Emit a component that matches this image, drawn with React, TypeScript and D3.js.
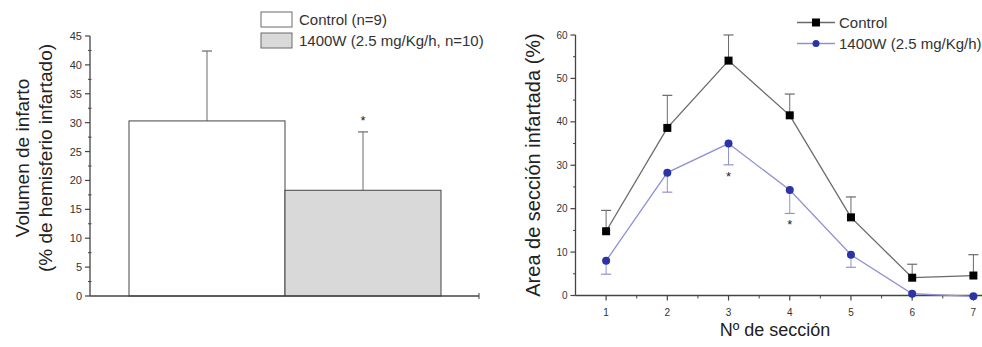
import React from "react";
import * as d3 from "d3";

const barGroups = ["Control (n=9)", "1400W (2.5 mg/Kg/h, n=10)"];
const barValues = [30.3, 18.3];
const barErrors = [12.1, 10.1];
const barFills = ["#ffffff", "#d9d9d9"];
const barStars = [false, true];
const leftTicks = [0, 5, 10, 15, 20, 25, 30, 35, 40, 45];

const sections = [1, 2, 3, 4, 5, 6, 7];
const controlVals = [14.8, 38.6, 54.1, 41.5, 18.0, 4.1, 4.6];
const controlErr = [4.8, 7.5, 5.9, 4.9, 4.7, 3.1, 4.8];
const treatVals = [8.0, 28.3, 35.0, 24.3, 9.4, 0.4, -0.2];
const treatErr = [3.1, 4.5, 4.9, 5.4, 2.9, 0, 0];
const treatStars = [false, false, true, true, false, false, false];
const rightTicks = [0, 10, 20, 30, 40, 50, 60];

const FONT = "'Liberation Sans', Arial, sans-serif";
const TXT = "#333";
const AX = "#444";
const BLUE = "#2a34a6";
const BLUE_L = "#8f92d4";
const GREY = "#6a6a6a";

export default function App() {
  // Left chart scales
  const yL = d3.scaleLinear().domain([0, 45]).range([296, 36]);
  const xL = d3.scaleBand<string>().domain(barGroups).range([129, 441]).padding(0);
  const minorL = d3.range(2.5, 45, 5);

  // Right chart scales
  const xR = d3.scaleLinear().domain([0.5, 7.5]).range([575.5, 1004]);
  const yR = d3.scaleLinear().domain([0, 60]).range([295.5, 35]);
  const minorR = d3.range(1.5, 7.5, 1);
  const lineGen = d3
    .line<number>()
    .x((_, i) => xR(sections[i]))
    .y((d) => yR(d));

  return (
    <svg width={982} height={347} style={{ position: "absolute", left: 0, top: 0, background: "#fff" }} fontFamily={FONT}>
      <rect x={0} y={0} width={982} height={347} fill="#fff" />
      {/* ---------- LEFT CHART ---------- */}
      <g>
        {barGroups.map((g, i) => {
          const x0 = xL(g)!;
          const w = xL.bandwidth();
          const cx = x0 + w / 2;
          return (
            <g key={g}>
              <line x1={cx} x2={cx} y1={yL(barValues[i])} y2={yL(barValues[i] + barErrors[i])} stroke={GREY} strokeWidth={1} />
              <line x1={cx - 5} x2={cx + 5} y1={yL(barValues[i] + barErrors[i])} y2={yL(barValues[i] + barErrors[i])} stroke={GREY} strokeWidth={1.2} />
              <rect x={x0} y={yL(barValues[i])} width={w} height={yL(0) - yL(barValues[i])} fill={barFills[i]} stroke={AX} strokeWidth={1} />
              {barStars[i] && (
                <text x={cx} y={yL(barValues[i] + barErrors[i]) - 7} textAnchor="middle" fontSize={13} fill="#222">*</text>
              )}
            </g>
          );
        })}
        {/* y axis */}
        <line x1={90} x2={90} y1={yL(45)} y2={yL(0)} stroke={AX} strokeWidth={1.3} />
        {leftTicks.map((t) => (
          <g key={t}>
            <line x1={85} x2={90} y1={yL(t)} y2={yL(t)} stroke={AX} strokeWidth={1.2} />
            <text x={82} y={yL(t) + 4} textAnchor="end" fontSize={11} fill={TXT}>{t}</text>
          </g>
        ))}
        {minorL.map((t) => (
          <line key={t} x1={88} x2={91.5} y1={yL(t)} y2={yL(t)} stroke={AX} strokeWidth={1} />
        ))}
        {/* x axis */}
        <line x1={90} x2={479} y1={yL(0)} y2={yL(0)} stroke={AX} strokeWidth={1.3} />
        <line x1={479} x2={479} y1={yL(0) - 3} y2={yL(0) + 3} stroke={AX} strokeWidth={1} />
        {/* y label */}
        <g transform={`translate(29,158) rotate(-90)`}>
          <text x={0} y={0} textAnchor="middle" fontSize={19} fill="#222">Volumen de infarto</text>
          <text x={0} y={23} textAnchor="middle" fontSize={19} fill="#222">(% de hemisferio infartado)</text>
        </g>
        {/* legend */}
        {barGroups.map((g, i) => (
          <g key={g}>
            <rect x={261} y={12 + i * 21} width={31} height={15} fill={barFills[i]} stroke={GREY} strokeWidth={1} />
            <text x={299} y={25 + i * 21} fontSize={15} fill={TXT}>{g}</text>
          </g>
        ))}
      </g>

      {/* ---------- RIGHT CHART ---------- */}
      <g>
        <line x1={xR(0.5)} x2={xR(0.5)} y1={yR(60)} y2={yR(0)} stroke={AX} strokeWidth={1.3} />
        {rightTicks.map((t) => (
          <g key={t}>
            <line x1={xR(0.5) - 5} x2={xR(0.5)} y1={yR(t)} y2={yR(t)} stroke={AX} strokeWidth={1.2} />
            <text x={xR(0.5) - 8} y={yR(t) + 3.5} textAnchor="end" fontSize={10} fill={TXT}>{t}</text>
          </g>
        ))}
        {d3.range(5, 60, 10).map((t) => (
          <line key={t} x1={xR(0.5) - 2.5} x2={xR(0.5)} y1={yR(t)} y2={yR(t)} stroke={AX} strokeWidth={1} />
        ))}
        <line x1={xR(0.5)} x2={982} y1={yR(0)} y2={yR(0)} stroke={AX} strokeWidth={1.3} />
        {sections.map((s) => (
          <g key={s}>
            <line x1={xR(s)} x2={xR(s)} y1={yR(0)} y2={yR(0) + 5} stroke={AX} strokeWidth={1.2} />
            <text x={xR(s)} y={yR(0) + 20} textAnchor="middle" fontSize={10} fill={TXT}>{s}</text>
          </g>
        ))}
        {minorR.map((s) => (
          <line key={s} x1={xR(s)} x2={xR(s)} y1={yR(0)} y2={yR(0) + 3} stroke={AX} strokeWidth={1} />
        ))}
        {sections.map((s, i) => (
          <g key={"ce" + s}>
            <line x1={xR(s)} x2={xR(s)} y1={yR(controlVals[i])} y2={yR(controlVals[i] + controlErr[i])} stroke={GREY} strokeWidth={1} />
            <line x1={xR(s) - 5} x2={xR(s) + 5} y1={yR(controlVals[i] + controlErr[i])} y2={yR(controlVals[i] + controlErr[i])} stroke={GREY} strokeWidth={1.2} />
          </g>
        ))}
        {sections.map((s, i) =>
          treatErr[i] > 0 ? (
            <g key={"te" + s}>
              <line x1={xR(s)} x2={xR(s)} y1={yR(treatVals[i])} y2={yR(treatVals[i] - treatErr[i])} stroke={BLUE_L} strokeWidth={1} />
              <line x1={xR(s) - 5} x2={xR(s) + 5} y1={yR(treatVals[i] - treatErr[i])} y2={yR(treatVals[i] - treatErr[i])} stroke={BLUE_L} strokeWidth={1.2} />
            </g>
          ) : null
        )}
        <path d={lineGen(controlVals) || ""} fill="none" stroke={GREY} strokeWidth={1.3} />
        <path d={lineGen(treatVals) || ""} fill="none" stroke={BLUE_L} strokeWidth={1.3} />
        {sections.map((s, i) => (
          <rect key={"cm" + s} x={xR(s) - 4} y={yR(controlVals[i]) - 4} width={8} height={8} fill="#000" />
        ))}
        {sections.map((s, i) => (
          <circle key={"tm" + s} cx={xR(s)} cy={yR(treatVals[i])} r={4} fill={BLUE} />
        ))}
        {sections.map((s, i) =>
          treatStars[i] ? (
            <text key={"st" + s} x={xR(s)} y={yR(treatVals[i] - treatErr[i]) + 16} textAnchor="middle" fontSize={13} fill="#222">*</text>
          ) : null
        )}
        <text transform={`translate(540,165) rotate(-90)`} textAnchor="middle" fontSize={20} fill="#222">Area de sección infartada (%)</text>
        <text x={775} y={336} textAnchor="middle" fontSize={18} fill="#222">Nº de sección</text>
        <line x1={797} x2={835} y1={22.5} y2={22.5} stroke={GREY} strokeWidth={1.3} />
        <rect x={812} y={18.5} width={8} height={8} fill="#000" />
        <text x={839} y={27.5} fontSize={15} fill={TXT}>Control</text>
        <line x1={797} x2={835} y1={43.5} y2={43.5} stroke={BLUE_L} strokeWidth={1.3} />
        <circle cx={816} cy={43.5} r={3.5} fill={BLUE} />
        <text x={839} y={48.5} fontSize={15} fill={TXT}>1400W (2.5 mg/Kg/h)</text>
      </g>
    </svg>
  );
}
